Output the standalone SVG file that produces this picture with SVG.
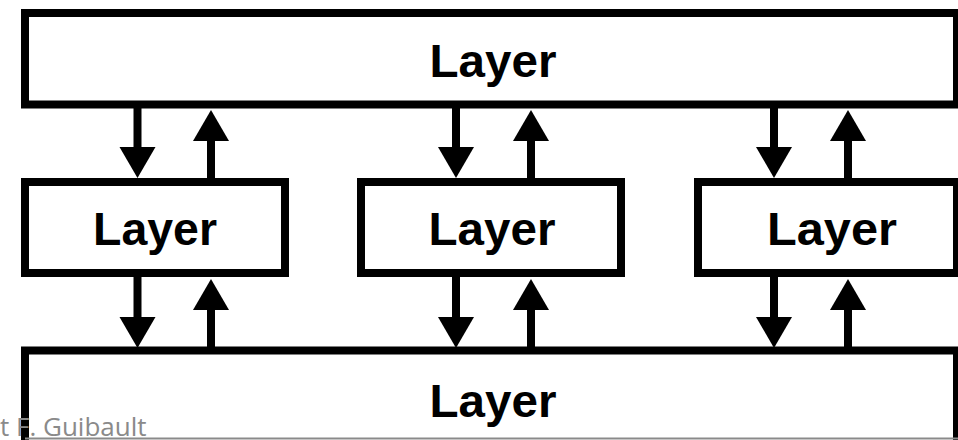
<svg xmlns="http://www.w3.org/2000/svg" width="958" height="440" viewBox="0 0 958 440">
<style>
.box{fill:#fff;stroke:#000;stroke-width:8}
.lbl{font-family:"Liberation Sans",Arial,sans-serif;font-weight:bold;font-size:46px;fill:#000;text-anchor:middle}
.arr{stroke:#000;stroke-width:8;stroke-linecap:butt;fill:none;marker-end:url(#head)}
.credit{font-family:"Open Sans",sans-serif;font-size:26px;fill:#8a8a8a}
</style>
<defs>
<marker id="head" markerUnits="userSpaceOnUse" markerWidth="32" markerHeight="38" refX="0" refY="18" orient="auto" viewBox="0 0 32 38">
<path d="M0,0 L31,18 L0,36 Z" fill="#000"/>
</marker>
</defs>
<rect width="958" height="440" fill="#fff"/>
<g id="top-layer">
<rect class="box" x="25" y="13" width="932" height="91.5"/>
<text class="lbl" x="493" y="77" textLength="127" lengthAdjust="spacingAndGlyphs">Layer</text>
</g>
<g id="mid-left-layer">
<rect class="box" x="25" y="182" width="260" height="91"/>
<text class="lbl" x="155" y="245" textLength="124" lengthAdjust="spacingAndGlyphs">Layer</text>
</g>
<g id="mid-center-layer">
<rect class="box" x="361" y="182" width="260" height="91"/>
<text class="lbl" x="492" y="245" textLength="127" lengthAdjust="spacingAndGlyphs">Layer</text>
</g>
<g id="mid-right-layer">
<rect class="box" x="698" y="182" width="259" height="91"/>
<text class="lbl" x="832" y="245" textLength="130" lengthAdjust="spacingAndGlyphs">Layer</text>
</g>
<g id="bottom-layer">
<rect class="box" x="25" y="350.5" width="932" height="100"/>
<text class="lbl" x="493" y="417" textLength="127" lengthAdjust="spacingAndGlyphs">Layer</text>
<line x1="25" y1="438.5" x2="958" y2="438.5" stroke="#8a8a8a" stroke-width="2"/>
</g>
<g id="connectors">
<line class="arr" x1="137.5" y1="108" x2="137.5" y2="147"/>
<line class="arr" x1="211" y1="178" x2="211" y2="141"/>
<line class="arr" x1="456" y1="108" x2="456" y2="147"/>
<line class="arr" x1="531" y1="178" x2="531" y2="141"/>
<line class="arr" x1="774" y1="108" x2="774" y2="147"/>
<line class="arr" x1="848" y1="178" x2="848" y2="141"/>
<line class="arr" x1="137.5" y1="277" x2="137.5" y2="317"/>
<line class="arr" x1="211" y1="347" x2="211" y2="310"/>
<line class="arr" x1="456" y1="277" x2="456" y2="317"/>
<line class="arr" x1="531" y1="347" x2="531" y2="310"/>
<line class="arr" x1="774" y1="277" x2="774" y2="317"/>
<line class="arr" x1="848" y1="347" x2="848" y2="310"/>
</g>
<text class="credit" x="0" y="436">t F. Guibault</text>
</svg>
